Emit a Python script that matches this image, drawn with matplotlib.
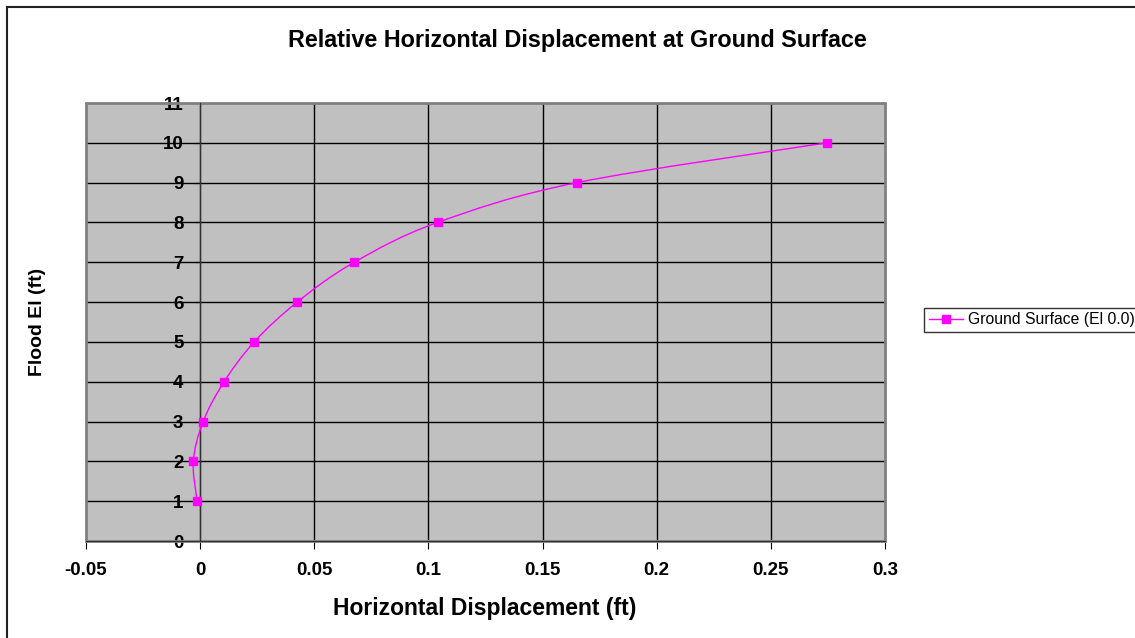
import numpy as np
import matplotlib.pyplot as plt
from matplotlib.path import Path
from matplotlib.patches import PathPatch, Rectangle
from matplotlib.lines import Line2D

# dados
flood_el = [1, 2, 3, 4, 5, 6, 7, 8, 9, 10]
disp = [-0.0013, -0.003, 0.0013, 0.0105, 0.0237, 0.0425, 0.0675, 0.104, 0.165, 0.2745]
series_name = "Ground Surface (El 0.0)"
x_ticks = [-0.05, 0, 0.05, 0.1, 0.15, 0.2, 0.25, 0.3]
x_tick_labels = ["-0.05", "0", "0.05", "0.1", "0.15", "0.2", "0.25", "0.3"]
y_ticks = list(range(0, 12))

plt.rcParams['font.family'] = ['Liberation Sans', 'DejaVu Sans']

W, H = 1135, 638
fig = plt.figure(figsize=(W / 100, H / 100), dpi=100)
ax = fig.add_axes([86 / W, (H - 541) / H, (885 - 86) / W, (541 - 103) / H])

ax.set_xlim(-0.05, 0.3)
ax.set_ylim(0, 11)
ax.set_facecolor("#C0C0C0")

# grade
for xv in x_ticks[1:-1]:
    ax.axvline(xv, color="black", lw=1, zorder=1)
for yv in y_ticks[1:-1]:
    ax.axhline(yv, color="black", lw=1, zorder=1)

# moldura cinza da area do grafico
ax.add_patch(Rectangle((0, 0), 1, 1, transform=ax.transAxes, fill=False,
                       edgecolor="#808080", lw=2, zorder=2, clip_on=False))

for s in ["top", "right"]:
    ax.spines[s].set_visible(False)
ax.spines["left"].set_position(("data", 0))
ax.spines["left"].set_color("#333333")
ax.spines["bottom"].set_color("#333333")
ax.spines["left"].set_zorder(3)
ax.spines["bottom"].set_zorder(3)

ax.set_xticks(x_ticks)
ax.set_xticklabels(x_tick_labels)
ax.set_yticks(y_ticks)
ax.tick_params(axis="x", direction="out", length=6, pad=9, labelsize=13.5)
ax.tick_params(axis="y", direction="out", length=4, pad=8, labelsize=13.5)
for lab in ax.get_xticklabels() + ax.get_yticklabels():
    lab.set_fontweight("bold")

# curva suavizada (estilo Excel, bezier)
pts = np.column_stack([disp, flood_el])
n = len(pts)
verts = [pts[0]]
codes = [Path.MOVETO]
for i in range(n - 1):
    p0 = pts[max(i - 1, 0)]
    p1 = pts[i]
    p2 = pts[i + 1]
    p3 = pts[min(i + 2, n - 1)]
    c1 = p1 + (p2 - p0) / 6
    c2 = p2 - (p3 - p1) / 6
    verts += [c1, c2, p2]
    codes += [Path.CURVE4] * 3
ax.add_patch(PathPatch(Path(verts, codes), fill=False, edgecolor="#FF00FF", lw=1, zorder=4))
ax.plot(disp, flood_el, ls="none", marker="s", ms=6, color="#FF00FF", zorder=5)

handle = Line2D([], [], color="#FF00FF", lw=1, marker="s", ms=6)
leg = fig.legend([handle], [series_name], loc="center left",
                 bbox_to_anchor=(924 / W, 1 - 320 / H), fontsize=11.3,
                 frameon=True, fancybox=False, handlelength=2.2,
                 borderpad=0.3, handletextpad=0.3, borderaxespad=0)
leg.get_frame().set_edgecolor("black")
leg.get_frame().set_linewidth(1)

fig.text(577 / W, 1 - 40 / H, "Relative Horizontal Displacement at Ground Surface",
         ha="center", va="center", fontsize=16.8, fontweight="bold")
fig.text(485 / W, 1 - 608 / H, "Horizontal Displacement (ft)",
         ha="center", va="center", fontsize=16.5, fontweight="bold")
fig.text(37 / W, 1 - 322 / H, "Flood El (ft)", rotation=90,
         ha="center", va="center", fontsize=14, fontweight="bold")

# borda externa
fig.add_artist(Line2D([7 / W, 7 / W], [0, 1 - 7 / H], color="#222222", lw=1.5))
fig.add_artist(Line2D([7 / W, 1], [1 - 7 / H, 1 - 7 / H], color="#222222", lw=1.5))

fig.savefig("out.png", dpi=100)
